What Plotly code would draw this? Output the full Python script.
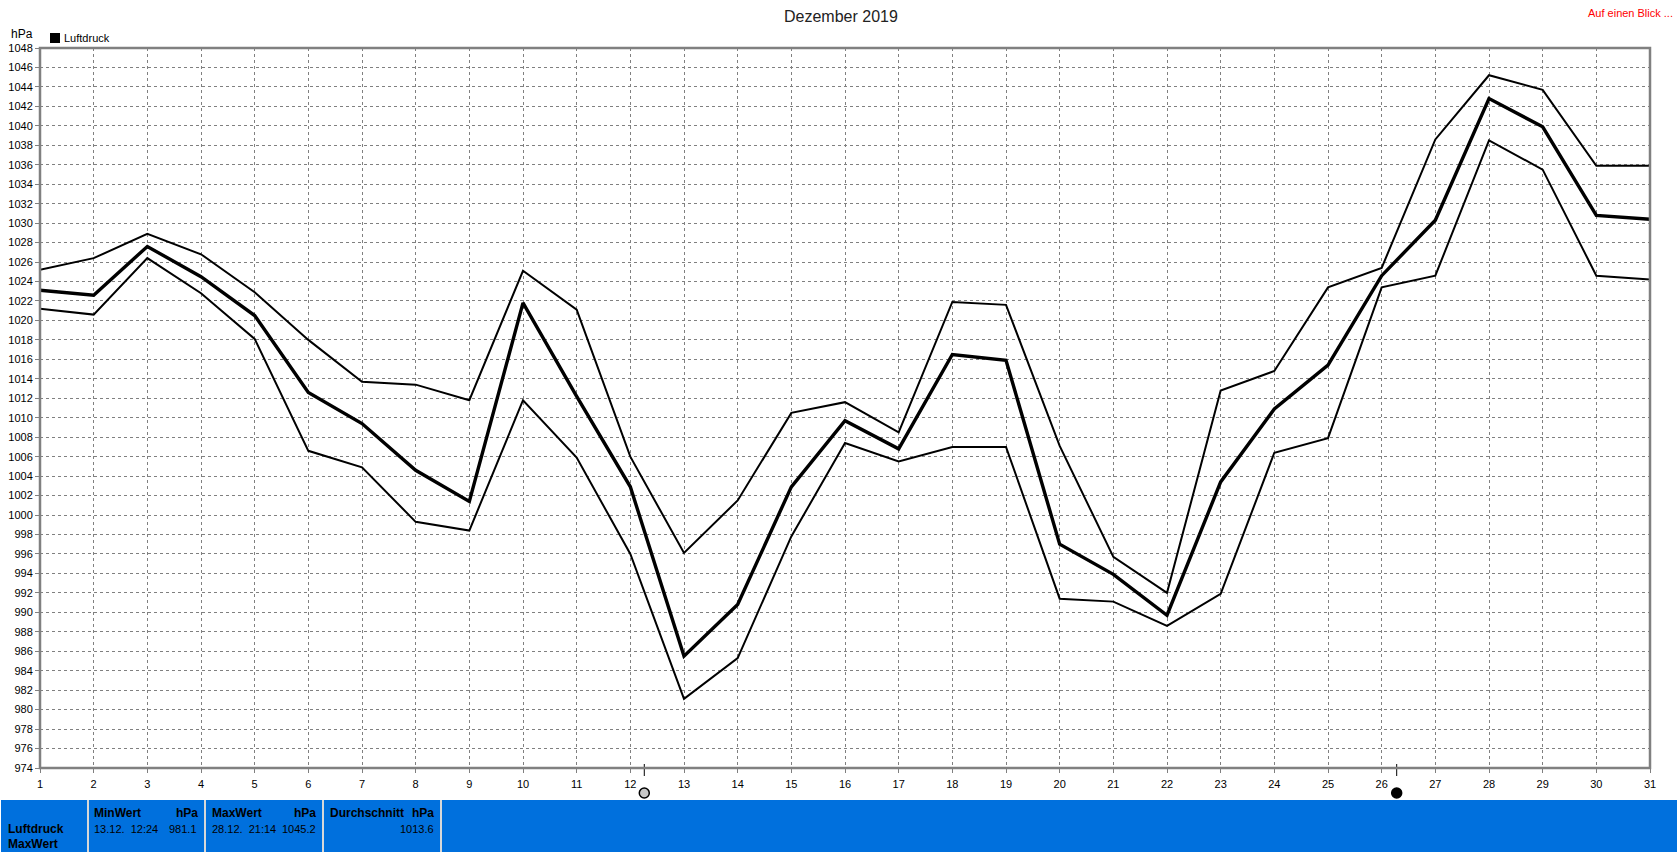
import plotly.graph_objects as go

W, H = 1677, 852
FONT = "Liberation Sans"
BLUE = "#0070DD"
GRAY = "#808080"

days = list(range(1, 32))
mean_p = [1023.1, 1022.6, 1027.6, 1024.5, 1020.5, 1012.6, 1009.4, 1004.6, 1001.4, 1021.8, 1012.2,
          1002.9, 985.5, 990.8, 1002.9, 1009.7, 1006.8, 1016.5, 1015.9, 997.0, 993.9, 989.7,
          1003.4, 1010.9, 1015.4, 1024.6, 1030.3, 1042.8, 1039.9, 1030.8, 1030.4]
max_p = [1025.2, 1026.4, 1028.9, 1026.8, 1022.9, 1018.0, 1013.7, 1013.4, 1011.8, 1025.1, 1021.1,
         1006.0, 996.1, 1001.5, 1010.5, 1011.6, 1008.5, 1021.9, 1021.6, 1007.1, 995.7, 992.0,
         1012.8, 1014.8, 1023.4, 1025.4, 1038.6, 1045.2, 1043.7, 1035.9, 1035.9]
min_p = [1021.2, 1020.6, 1026.4, 1022.8, 1018.1, 1006.6, 1004.9, 999.3, 998.4, 1011.8, 1005.9,
         996.0, 981.1, 985.3, 997.8, 1007.4, 1005.5, 1007.0, 1007.0, 991.4, 991.1, 988.6,
         991.9, 1006.4, 1007.9, 1023.4, 1024.6, 1038.5, 1035.5, 1024.6, 1024.2]
moon_days = [12.26, 26.28]
moon_fill = ["#C8C8C8", "#000000"]
y_ticks = list(range(974, 1049, 2))

fig = go.Figure()
for vals, w in ((max_p, 2), (min_p, 2), (mean_p, 3.4)):
    fig.add_trace(go.Scatter(x=days, y=vals, mode="lines", showlegend=False,
                             line=dict(color="#000000", width=w), cliponaxis=False))

# Moon-phase marks live on a hidden overlay strip that sits under the plot area.
for d, c in zip(moon_days, moon_fill):
    fig.add_trace(go.Scatter(x=[d, d], y=[0.9, 0.6], mode="lines", showlegend=False,
                             xaxis="x2", yaxis="y2", line=dict(color="#000000", width=1)))
    fig.add_trace(go.Scatter(x=[d], y=[0.175], mode="markers", showlegend=False,
                             xaxis="x2", yaxis="y2", cliponaxis=False,
                             marker=dict(size=10, color=c, line=dict(color="#000000", width=1.5))))

def px(x):
    return x / W
def py(y):
    return 1 - y / H

axis_common = dict(tickmode="array", showgrid=True, gridcolor=GRAY, griddash="3px,3px", gridwidth=1,
                   zeroline=False, showline=False, ticks="outside", ticklen=4, tickcolor=GRAY,
                   tickfont=dict(size=11, family=FONT))
fig.update_layout(
    width=W, height=H, margin=dict(l=0, r=0, t=0, b=0, autoexpand=False),
    paper_bgcolor="#FFFFFF", plot_bgcolor="rgba(0,0,0,0)",
    font=dict(family=FONT, size=12, color="#000000"), showlegend=False,
    xaxis=dict(domain=[px(40), px(1650)], range=[1, 31], tickvals=days,
               ticktext=[str(d) for d in days], ticklabelstandoff=2, **axis_common),
    yaxis=dict(domain=[py(768), py(48)], range=[974, 1048], tickvals=y_ticks,
               ticktext=[str(v) for v in y_ticks], ticklabelstandoff=0, **axis_common),
    xaxis2=dict(domain=[px(40), px(1650)], range=[1, 31], visible=False, anchor="y2"),
    yaxis2=dict(domain=[py(800), py(760)], range=[0, 1], visible=False, anchor="x2"),
)

shapes = [dict(type="rect", xref="paper", yref="paper", x0=px(40), x1=px(1650), y0=py(768), y1=py(48),
               line=dict(color=GRAY, width=2.5), fillcolor="rgba(0,0,0,0)", layer="above"),
          dict(type="rect", xref="paper", yref="paper", x0=px(1), x1=1, y0=0, y1=py(800),
               fillcolor=BLUE, line=dict(width=0), layer="below"),
          dict(type="rect", xref="paper", yref="paper", x0=px(50), x1=px(60), y0=py(43), y1=py(33),
               fillcolor="#000000", line=dict(width=0))]
for sx in (88, 205, 323, 441):
    shapes.append(dict(type="rect", xref="paper", yref="paper", x0=px(sx - 1), x1=px(sx + 1),
                       y0=0, y1=py(800), fillcolor="#D8D8D8", line=dict(width=0), layer="above"))
fig.update_layout(shapes=shapes)

def text(x, y, s, anchor="left", size=11, color="#000000", bold=False):
    t = f"<b>{s}</b>" if bold else s
    fig.add_annotation(xref="paper", yref="paper", x=px(x), y=py(y), text=t, showarrow=False,
                       xanchor=anchor, yanchor="middle", align=anchor,
                       font=dict(family=FONT, size=size, color=color), borderpad=0, borderwidth=0)

text(841, 16, "Dezember 2019", "center", 16, "#222222")
text(1673, 13, "Auf einen Blick ...", "right", 11, "#FF0000")
text(11, 34, "hPa", size=12)
text(64, 38, "Luftdruck", size=11)
text(8, 829, "Luftdruck", size=12, bold=True)
text(8, 844, "MaxWert", size=12, bold=True)
text(94, 813, "MinWert", size=12, bold=True)
text(198, 813, "hPa", "right", size=12, bold=True)
text(94, 829, "13.12.&nbsp;&nbsp;12:24")
text(197, 829, "981.1", "right")
text(212, 813, "MaxWert", size=12, bold=True)
text(316, 813, "hPa", "right", size=12, bold=True)
text(212, 829, "28.12.&nbsp;&nbsp;21:14")
text(316, 829, "1045.2", "right")
text(330, 813, "Durchschnitt", size=12, bold=True)
text(434, 813, "hPa", "right", size=12, bold=True)
text(434, 829, "1013.6", "right")

post = "document.body.style.margin='0';document.body.style.overflow='hidden';"
fig.write_html("out.html", post_script=post, config=dict(displayModeBar=False))
